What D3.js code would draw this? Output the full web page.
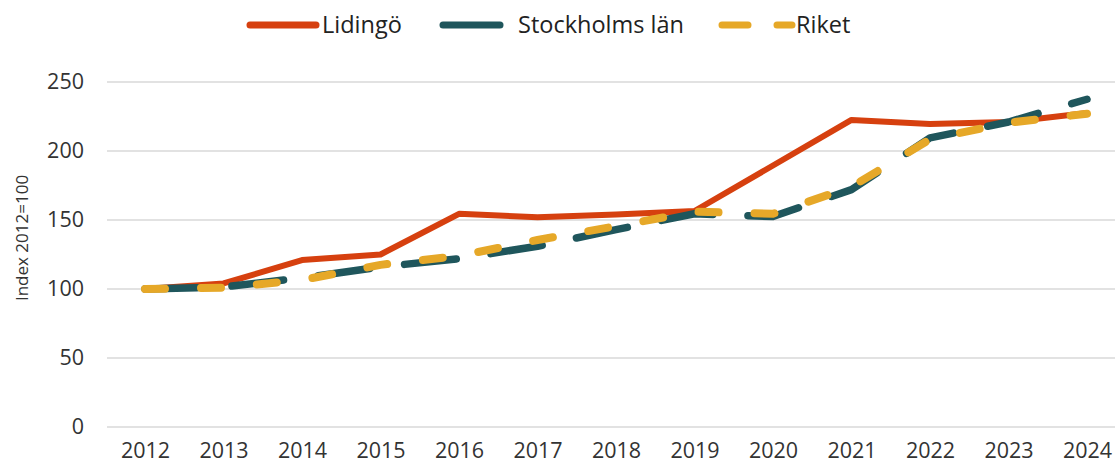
<!DOCTYPE html>
<html>
<head>
<meta charset="utf-8">
<script src="https://cdn.jsdelivr.net/npm/d3@7"></script>
<style>
    body { margin: 0; background: #fff; }
    svg { font-family: "Open Sans", "Noto Sans", sans-serif; }
</style>
</head>
<body>
<div id="chart"></div>
<script>
var years = ["2012", "2013", "2014", "2015", "2016", "2017", "2018", "2019", "2020", "2021", "2022", "2023", "2024"];
var lidingo = [100, 104, 121, 125, 154.5, 152, 154, 156.5, 189.5, 222.5, 219.5, 221, 227.5];
var stockholm = [100, 101.5, 108, 116, 122, 131, 143, 154.5, 152.5, 172, 209.5, 221, 237.5];
var riket = [100, 101, 106.5, 117.5, 124, 135.5, 145.5, 156, 154.5, 174, 208.5, 220.5, 227];
var yTicks = [0, 50, 100, 150, 200, 250];

var width = 1115;
var height = 468;

var svg = d3.select("#chart")
    .append("svg")
    .attr("width", width)
    .attr("height", height);

var xScale = d3.scalePoint().domain(years).range([145, 1087]);
var yScale = d3.scaleLinear().domain([0, 250]).range([427, 82]);

// gridlines
svg.append("g")
    .selectAll("line")
    .data(yTicks)
    .enter().append("line")
    .attr("x1", 107)
    .attr("x2", width)
    .attr("y1", d => yScale(d))
    .attr("y2", d => yScale(d))
    .attr("stroke", "#d9d9d9")
    .attr("stroke-width", 1.5);

// y axis labels
var yAxis = svg.append("g")
    .attr("transform", "translate(92,0)")
    .call(d3.axisLeft(yScale).tickValues(yTicks).tickSize(0).tickPadding(8));
yAxis.select(".domain").remove();
yAxis.selectAll("text")
    .attr("font-size", "21.5px")
    .attr("font-family", "\"Open Sans\", sans-serif")
    .attr("fill", "#333");

// x axis labels
var xAxis = svg.append("g")
    .attr("transform", "translate(0,443)")
    .call(d3.axisBottom(xScale).tickSize(0).tickPadding(0));
xAxis.select(".domain").remove();
xAxis.selectAll("text")
    .attr("font-size", "21.5px")
    .attr("font-family", "\"Open Sans\", sans-serif")
    .attr("fill", "#333");

// y title
svg.append("text")
    .attr("transform", "translate(28,238) rotate(-90)")
    .attr("text-anchor", "middle")
    .attr("font-size", "17px")
    .attr("fill", "#333")
    .text("Index 2012=100");

var series = [
    { name: "Lidingö", values: lidingo, color: "#d6400f", dash: null, width: 6 },
    { name: "Stockholms län", values: stockholm, color: "#1f565c", dash: "52,35", width: 7.5 },
    { name: "Riket", values: riket, color: "#e6a828", dash: "20,36", width: 8 }
];

var line = d3.line()
    .x((d, i) => xScale(years[i]))
    .y(d => yScale(d));

svg.append("g")
    .selectAll("path")
    .data(series)
    .enter().append("path")
    .attr("d", d => line(d.values))
    .attr("fill", "none")
    .attr("stroke", d => d.color)
    .attr("stroke-width", d => d.width)
    .attr("stroke-linecap", d => d.dash ? "round" : "butt")
    .attr("stroke-linejoin", "round")
    .attr("stroke-dasharray", d => d.dash);

// legend
var legendItems = [
    { x0: 250, x1: 316, tx: 322, dash: null },
    { x0: 443, x1: 500, tx: 518, dash: null },
    { x0: 722, x1: 792, tx: 796, dash: "26,29" }
];
var legend = svg.append("g");
series.forEach((s, i) => {
    var it = legendItems[i];
    legend.append("line")
        .attr("x1", it.x0)
        .attr("x2", it.x1)
        .attr("y1", 25)
        .attr("y2", 25)
        .attr("stroke", s.color)
        .attr("stroke-width", 7)
        .attr("stroke-linecap", "round")
        .attr("stroke-dasharray", it.dash);
    legend.append("text")
        .attr("x", it.tx)
        .attr("y", 33)
        .attr("font-size", "23.5px")
        .attr("fill", "#222")
        .text(s.name);
});
</script>
</body>
</html>
